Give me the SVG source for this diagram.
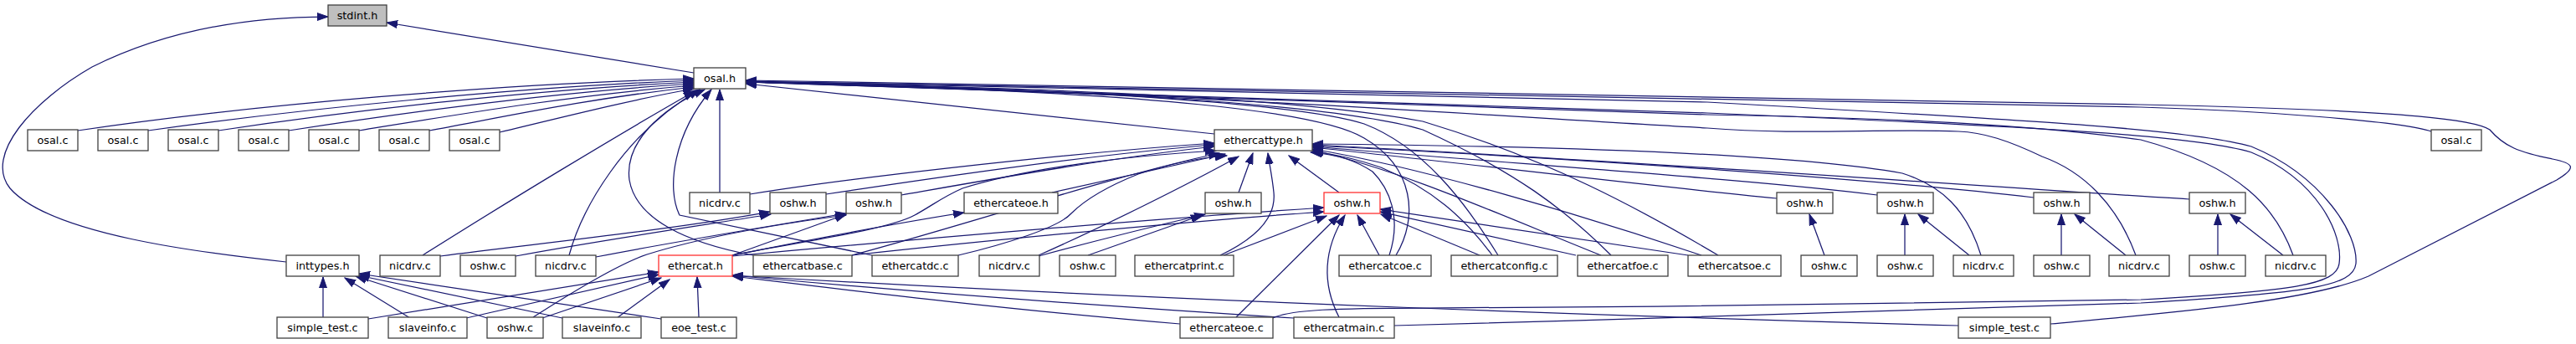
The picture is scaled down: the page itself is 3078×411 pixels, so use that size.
<svg xmlns="http://www.w3.org/2000/svg" width="3078" height="411" viewBox="0 0 3078 411">
<style>
.n rect{fill:#ffffff;stroke:#404040;stroke-width:1.3}
.n.r rect{stroke:#ff3030}
.n.g rect{fill:#bfbfbf}
.n text{font-family:"DejaVu Sans","Liberation Sans",sans-serif;font-size:12.8px;text-anchor:middle;fill:#000}
#edges path{fill:none;stroke:#191970;stroke-width:1.25;marker-end:url(#a)}
</style>
<defs>
<marker id="a" markerWidth="14" markerHeight="10" refX="13" refY="5" orient="auto" markerUnits="userSpaceOnUse"><path d="M0,0.5 L13,5 L0,9.5 z" fill="#191970" stroke="#191970" stroke-width="1"/></marker>
</defs>
<rect width="3078" height="411" fill="#ffffff"/>
<g id="edges">
<path d="M829,87 L462,27"/>
<path d="M342,313 C240,302 60,280 12,225 C-20,185 40,120 110,80 C200,35 300,20 392,20"/>
<path d="M93,156 C300,125 600,100 829,94"/>
<path d="M177,156 C360,130 620,104 829,96"/>
<path d="M261,156 C420,132 640,107 829,98"/>
<path d="M345,156 C480,135 660,110 829,100"/>
<path d="M429,156 C540,138 680,114 829,102"/>
<path d="M513,156 C600,140 700,118 829,104"/>
<path d="M597,158 C680,138 760,118 829,106"/>
<path d="M505,305 C600,245 740,160 830,109"/>
<path d="M680,305 C695,250 745,160 836,107"/>
<path d="M900,305 C820,290 760,262 752,215 C746,170 790,130 842,107"/>
<path d="M1042,305 L812,257 C796,225 805,160 850,107"/>
<path d="M860,230 L860,107"/>
<path d="M1451,160 L891,100"/>
<path d="M2905,157 C2870,145 2700,132 2558,128 L891,97"/>
<path d="M2450,387 C2600,373 2760,360 2830,330 L3055,215 C3080,200 3075,195 3050,190 C3010,182 2992,175 2975,155 C2960,145 2900,132 2558,125 L891,96"/>
<path d="M1666,389 C2000,380 2400,368 2558,362 C2760,350 2812,342 2815,315 C2818,280 2775,210 2690,175 C2620,155 2450,145 2040,122 C1700,112 1300,104 891,97"/>
<path d="M1521,380 C1540,370 1600,368 1700,368 C2000,367 2400,362 2558,358 C2740,348 2792,340 2795,315 C2800,280 2770,215 2690,182 C2620,162 2450,152 2040,135 C1700,122 1300,108 891,98"/>
<path d="M2740,305 C2720,250 2680,200 2558,167 C2400,145 2200,140 2040,137 C1700,124 1300,109 891,98"/>
<path d="M2552,305 C2530,245 2490,205 2440,187 C2400,168 2370,158 2340,157 C2250,153 2150,162 2040,153 C1800,140 1500,115 891,98"/>
<path d="M2053,305 C1960,250 1850,190 1700,145 C1550,118 1300,106 891,98"/>
<path d="M1925,305 C1870,250 1810,205 1700,155 C1600,125 1300,106 891,98"/>
<path d="M1790,305 C1750,240 1700,175 1630,148 C1560,125 1300,106 891,98"/>
<path d="M1668,305 C1695,260 1690,200 1630,165 C1580,135 1400,110 891,98"/>
<path d="M896,232 C1000,215 1250,185 1451,171"/>
<path d="M987,232 C1100,215 1300,185 1451,173"/>
<path d="M1077,233 C1180,215 1330,188 1451,175"/>
<path d="M875,305 C950,290 1060,275 1093,257 C1115,245 1125,236 1150,225 C1230,200 1350,186 1453,180"/>
<path d="M1018,305 C1150,270 1330,210 1457,183"/>
<path d="M1145,305 C1200,292 1265,272 1280,255 C1300,235 1330,220 1360,208 C1400,195 1440,188 1466,186"/>
<path d="M1257,230 L1464,184"/>
<path d="M1241,305 C1320,270 1420,220 1480,187"/>
<path d="M1480,230 L1497,183"/>
<path d="M1458,305 C1500,285 1525,260 1522,230 C1520,210 1517,198 1515,183"/>
<path d="M1600,230 L1540,186"/>
<path d="M1660,305 C1675,260 1660,225 1640,205 C1620,192 1600,185 1566,182"/>
<path d="M1783,305 C1750,260 1710,225 1650,200 C1620,190 1600,185 1568,181"/>
<path d="M1913,305 C1800,260 1680,205 1568,179"/>
<path d="M2033,305 C1900,260 1700,200 1568,178"/>
<path d="M2123,237 C1950,220 1750,195 1568,176"/>
<path d="M2243,233 C2100,215 1800,195 1568,175"/>
<path d="M2430,236 C2250,215 1900,190 1568,174"/>
<path d="M2616,238 C2400,225 2000,195 1568,173"/>
<path d="M2367,305 C2350,250 2320,222 2273,207 C2150,185 1900,175 1568,172"/>
<path d="M875,306 C1100,285 1400,260 1582,248"/>
<path d="M1018,305 C1200,285 1450,262 1582,253"/>
<path d="M1462,305 L1585,258"/>
<path d="M1477,379 L1600,257"/>
<path d="M1600,379 C1580,340 1580,300 1607,257"/>
<path d="M1648,305 L1622,257"/>
<path d="M1768,305 L1650,256"/>
<path d="M1883,305 L1649,253"/>
<path d="M2017,305 L1649,250"/>
<path d="M1300,305 L1436,257"/>
<path d="M1241,306 C1300,290 1380,270 1440,256"/>
<path d="M526,306 C650,290 800,275 920,253"/>
<path d="M616,306 C700,290 820,272 921,256"/>
<path d="M712,307 C800,290 920,270 1011,255"/>
<path d="M637,379 C690,345 740,315 773,304 C850,280 950,265 1011,257"/>
<path d="M875,305 L1011,256"/>
<path d="M875,305 C950,290 1050,270 1152,254"/>
<path d="M440,381 L787,325"/>
<path d="M557,380 L787,328"/>
<path d="M648,380 L790,332"/>
<path d="M737,380 L800,334"/>
<path d="M835,379 L833,331"/>
<path d="M1410,387 C1200,370 1000,345 875,330"/>
<path d="M1546,380 C1300,365 1050,345 875,329"/>
<path d="M2340,389 C2000,380 1400,360 875,329"/>
<path d="M386,379 L386,331"/>
<path d="M490,380 L412,332"/>
<path d="M582,380 L425,330"/>
<path d="M672,380 L428,329"/>
<path d="M790,381 L429,327"/>
<path d="M2180,305 L2162,256"/>
<path d="M2276,305 L2276,256"/>
<path d="M2353,305 L2292,256"/>
<path d="M2463,305 L2463,256"/>
<path d="M2540,305 L2479,256"/>
<path d="M2650,305 L2650,256"/>
<path d="M2728,305 L2665,256"/>
</g>
<g id="stdint_h" class="n g"><rect x="392" y="6" width="70" height="25"/><text x="427" y="23">stdint.h</text></g>
<g id="osal_h" class="n"><rect x="829" y="81" width="62" height="25"/><text x="860" y="98">osal.h</text></g>
<g id="osal_c1" class="n"><rect x="33" y="155" width="60" height="25"/><text x="63" y="172">osal.c</text></g>
<g id="osal_c2" class="n"><rect x="117" y="155" width="60" height="25"/><text x="147" y="172">osal.c</text></g>
<g id="osal_c3" class="n"><rect x="201" y="155" width="60" height="25"/><text x="231" y="172">osal.c</text></g>
<g id="osal_c4" class="n"><rect x="285" y="155" width="60" height="25"/><text x="315" y="172">osal.c</text></g>
<g id="osal_c5" class="n"><rect x="369" y="155" width="60" height="25"/><text x="399" y="172">osal.c</text></g>
<g id="osal_c6" class="n"><rect x="453" y="155" width="60" height="25"/><text x="483" y="172">osal.c</text></g>
<g id="osal_c7" class="n"><rect x="537" y="155" width="60" height="25"/><text x="567" y="172">osal.c</text></g>
<g id="ethercattype_h" class="n"><rect x="1451" y="155" width="117" height="25"/><text x="1509.5" y="172">ethercattype.h</text></g>
<g id="osal_c8" class="n"><rect x="2905" y="155" width="60" height="25"/><text x="2935" y="172">osal.c</text></g>
<g id="nicdrv_c1" class="n"><rect x="824" y="230" width="72" height="25"/><text x="860" y="247">nicdrv.c</text></g>
<g id="oshw_h1" class="n"><rect x="920" y="230" width="67" height="25"/><text x="953.5" y="247">oshw.h</text></g>
<g id="oshw_h2" class="n"><rect x="1011" y="230" width="66" height="25"/><text x="1044" y="247">oshw.h</text></g>
<g id="ethercateoe_h" class="n"><rect x="1152" y="230" width="112" height="25"/><text x="1208" y="247">ethercateoe.h</text></g>
<g id="oshw_h3" class="n"><rect x="1440" y="230" width="67" height="25"/><text x="1473.5" y="247">oshw.h</text></g>
<g id="oshw_h4" class="n r"><rect x="1582" y="230" width="67" height="25"/><text x="1615.5" y="247">oshw.h</text></g>
<g id="oshw_h5" class="n"><rect x="2123" y="230" width="67" height="25"/><text x="2156.5" y="247">oshw.h</text></g>
<g id="oshw_h6" class="n"><rect x="2243" y="230" width="67" height="25"/><text x="2276.5" y="247">oshw.h</text></g>
<g id="oshw_h7" class="n"><rect x="2430" y="230" width="67" height="25"/><text x="2463.5" y="247">oshw.h</text></g>
<g id="oshw_h8" class="n"><rect x="2616" y="230" width="67" height="25"/><text x="2649.5" y="247">oshw.h</text></g>
<g id="inttypes_h" class="n"><rect x="342" y="305" width="87" height="25"/><text x="385.5" y="322">inttypes.h</text></g>
<g id="nicdrv_c2" class="n"><rect x="454" y="305" width="72" height="25"/><text x="490" y="322">nicdrv.c</text></g>
<g id="oshw_c1" class="n"><rect x="550" y="305" width="66" height="25"/><text x="583" y="322">oshw.c</text></g>
<g id="nicdrv_c3" class="n"><rect x="640" y="305" width="72" height="25"/><text x="676" y="322">nicdrv.c</text></g>
<g id="ethercat_h" class="n r"><rect x="787" y="305" width="88" height="25"/><text x="831" y="322">ethercat.h</text></g>
<g id="ethercatbase_c" class="n"><rect x="900" y="305" width="118" height="25"/><text x="959" y="322">ethercatbase.c</text></g>
<g id="ethercatdc_c" class="n"><rect x="1042" y="305" width="103" height="25"/><text x="1093.5" y="322">ethercatdc.c</text></g>
<g id="nicdrv_c4" class="n"><rect x="1170" y="305" width="72" height="25"/><text x="1206" y="322">nicdrv.c</text></g>
<g id="oshw_c2" class="n"><rect x="1266" y="305" width="67" height="25"/><text x="1299.5" y="322">oshw.c</text></g>
<g id="ethercatprint_c" class="n"><rect x="1356" y="305" width="118" height="25"/><text x="1415" y="322">ethercatprint.c</text></g>
<g id="ethercatcoe_c" class="n"><rect x="1600" y="305" width="110" height="25"/><text x="1655" y="322">ethercatcoe.c</text></g>
<g id="ethercatconfig_c" class="n"><rect x="1734" y="305" width="127" height="25"/><text x="1797.5" y="322">ethercatconfig.c</text></g>
<g id="ethercatfoe_c" class="n"><rect x="1885" y="305" width="108" height="25"/><text x="1939" y="322">ethercatfoe.c</text></g>
<g id="ethercatsoe_c" class="n"><rect x="2017" y="305" width="111" height="25"/><text x="2072.5" y="322">ethercatsoe.c</text></g>
<g id="oshw_c3" class="n"><rect x="2152" y="305" width="67" height="25"/><text x="2185.5" y="322">oshw.c</text></g>
<g id="oshw_c4" class="n"><rect x="2243" y="305" width="67" height="25"/><text x="2276.5" y="322">oshw.c</text></g>
<g id="nicdrv_c5" class="n"><rect x="2334" y="305" width="72" height="25"/><text x="2370" y="322">nicdrv.c</text></g>
<g id="oshw_c5" class="n"><rect x="2430" y="305" width="67" height="25"/><text x="2463.5" y="322">oshw.c</text></g>
<g id="nicdrv_c6" class="n"><rect x="2520" y="305" width="72" height="25"/><text x="2556" y="322">nicdrv.c</text></g>
<g id="oshw_c6" class="n"><rect x="2616" y="305" width="67" height="25"/><text x="2649.5" y="322">oshw.c</text></g>
<g id="nicdrv_c7" class="n"><rect x="2707" y="305" width="72" height="25"/><text x="2743" y="322">nicdrv.c</text></g>
<g id="simple_test_c1" class="n"><rect x="331" y="379" width="109" height="25"/><text x="385.5" y="396">simple_test.c</text></g>
<g id="slaveinfo_c1" class="n"><rect x="464" y="379" width="94" height="25"/><text x="511" y="396">slaveinfo.c</text></g>
<g id="oshw_c7" class="n"><rect x="582" y="379" width="67" height="25"/><text x="615.5" y="396">oshw.c</text></g>
<g id="slaveinfo_c2" class="n"><rect x="672" y="379" width="94" height="25"/><text x="719" y="396">slaveinfo.c</text></g>
<g id="eoe_test_c" class="n"><rect x="790" y="379" width="90" height="25"/><text x="835" y="396">eoe_test.c</text></g>
<g id="ethercateoe_c" class="n"><rect x="1410" y="379" width="111" height="25"/><text x="1465.5" y="396">ethercateoe.c</text></g>
<g id="ethercatmain_c" class="n"><rect x="1546" y="379" width="120" height="25"/><text x="1606" y="396">ethercatmain.c</text></g>
<g id="simple_test_c2" class="n"><rect x="2340" y="379" width="110" height="25"/><text x="2395" y="396">simple_test.c</text></g>
</svg>
